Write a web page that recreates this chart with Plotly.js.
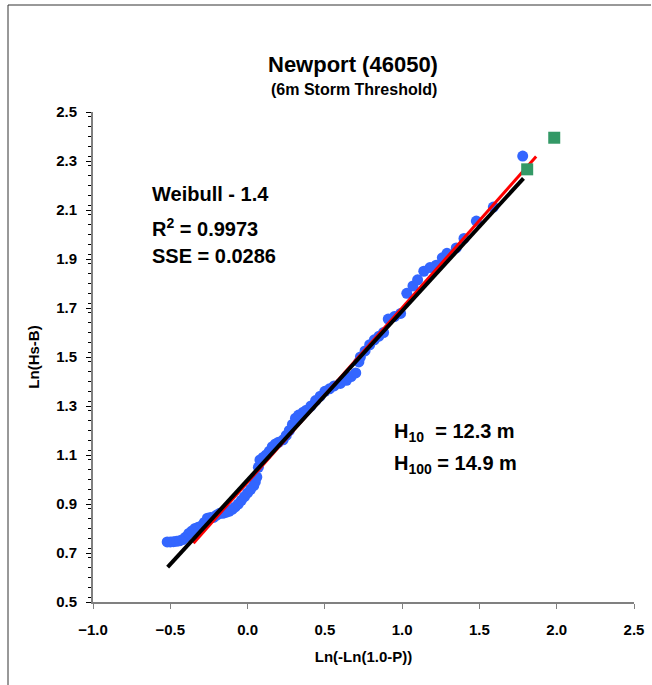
<!DOCTYPE html>
<html>
<head>
<meta charset="utf-8">
<script src="https://cdn.plot.ly/plotly-3.0.1.min.js"></script>
<style>html,body{margin:0;padding:0;background:#fff;}#chart{width:652px;height:685px;}</style>
</head>
<body>
<div id="chart"></div>
<script>
// Observed data: x = Ln(-Ln(1.0-P)), y = Ln(Hs-B)
const obsX = [-0.52,-0.50,-0.48,-0.46,-0.44,-0.42,-0.40,-0.38,-0.36,-0.34,-0.32,-0.30,-0.28,-0.26,-0.24,-0.22,-0.20,-0.18,-0.16,-0.14,-0.12,-0.10,-0.08,-0.06,-0.04,-0.02,0.00,0.02,0.04,0.05,0.06,0.07,0.08,0.10,0.12,0.14,0.16,0.18,0.20,0.23,0.25,0.27,0.29,0.31,0.33,0.36,0.38,0.41,0.44,0.47,0.50,0.53,0.56,0.60,0.64,0.67,0.70,0.72,0.73,0.76,0.79,0.82,0.85,0.88,0.91,0.95,0.99,1.03,1.07,1.10,1.14,1.18,1.22,1.26,1.29,1.35,1.40,1.48,1.59,1.78];
const obsY = [0.745,0.745,0.746,0.748,0.750,0.755,0.765,0.780,0.790,0.800,0.805,0.810,0.825,0.842,0.845,0.845,0.855,0.862,0.862,0.866,0.870,0.878,0.888,0.900,0.915,0.930,0.945,0.960,0.975,0.990,1.010,1.050,1.080,1.090,1.100,1.115,1.134,1.145,1.152,1.162,1.180,1.200,1.225,1.250,1.263,1.275,1.283,1.300,1.322,1.340,1.360,1.370,1.382,1.392,1.405,1.420,1.435,1.480,1.500,1.525,1.550,1.570,1.585,1.600,1.655,1.665,1.678,1.760,1.790,1.815,1.850,1.865,1.875,1.905,1.923,1.945,1.984,2.055,2.112,2.320];
// Fitted lines
const redX = [-0.35, 1.867];
const redY = [0.740, 2.318];
const blackX = [-0.517, 1.785];
const blackY = [0.642, 2.229];
// Return-period estimates (H10, H100)
const retX = [1.809, 1.984];
const retY = [2.266, 2.395];

const F = 'Liberation Sans, Arial, sans-serif';
const traces = [
  {x: obsX, y: obsY, mode: 'markers', type: 'scatter',
   marker: {color: '#3366FF', size: 11, line: {width: 0}}},
  {x: redX, y: redY, mode: 'lines', type: 'scatter', line: {color: '#FF0000', width: 3}},
  {x: blackX, y: blackY, mode: 'lines', type: 'scatter', line: {color: '#000000', width: 4}},
  {x: retX, y: retY, mode: 'markers', type: 'scatter',
   marker: {color: '#339966', size: 12, symbol: 'square', line: {width: 0}}}
];

const px = v => (v - 93) / 541;
const py = v => (602 - v) / 490;

const layout = {
  width: 652, height: 685,
  margin: {l: 93, r: 18, t: 112, b: 83},
  paper_bgcolor: '#fff', plot_bgcolor: '#fff',
  showlegend: false,
  font: {family: F, color: '#000'},
  xaxis: {
    range: [-1.0, 2.5], tick0: -1, dtick: 0.5, tickformat: '.1f',
    showgrid: false, zeroline: false, showline: true, linecolor: '#808080', linewidth: 2,
    ticks: 'outside', ticklen: 5, tickcolor: '#808080', tickwidth: 1,
    ticklabelstandoff: 8,
    tickfont: {family: F, size: 15, color: '#000', weight: 'bold'},
    title: {text: '<b>Ln(-Ln(1.0-P))</b>', font: {family: F, size: 15, color: '#000'}, standoff: 14}
  },
  yaxis: {
    range: [0.5, 2.5], tick0: 0.5, dtick: 0.2, tickformat: '.1f',
    showgrid: false, zeroline: false, showline: true, linecolor: '#808080', linewidth: 2,
    ticks: 'outside', ticklen: 5, tickcolor: '#000', tickwidth: 1,
    ticklabelstandoff: 6,
    minor: {dtick: 0.04, ticks: 'outside', ticklen: 3, tickcolor: '#000', showgrid: false},
    tickfont: {family: F, size: 15, color: '#000', weight: 'bold'},
    title: {text: '<b>Ln(Hs-B)</b>', font: {family: F, size: 15, color: '#000'}, standoff: 13}
  },
  annotations: [
    {xref: 'paper', yref: 'paper', x: px(353), y: py(65), text: '<b>Newport (46050)</b>',
     showarrow: false, xanchor: 'center', yanchor: 'middle', font: {family: F, size: 22, color: '#000'}},
    {xref: 'paper', yref: 'paper', x: px(354), y: py(89), text: '<b>(6m Storm Threshold)</b>',
     showarrow: false, xanchor: 'center', yanchor: 'middle', font: {family: F, size: 16, color: '#000'}},
    {xref: 'paper', yref: 'paper', x: px(150), y: py(194), text: '<b>Weibull - 1.4</b>',
     showarrow: false, xanchor: 'left', yanchor: 'middle', font: {family: F, size: 20, color: '#000'}},
    {xref: 'paper', yref: 'paper', x: px(150), y: py(227), text: '<b>R<sup>2</sup> = 0.9973</b>',
     showarrow: false, xanchor: 'left', yanchor: 'middle', font: {family: F, size: 20, color: '#000'}},
    {xref: 'paper', yref: 'paper', x: px(150), y: py(256), text: '<b>SSE = 0.0286</b>',
     showarrow: false, xanchor: 'left', yanchor: 'middle', font: {family: F, size: 20, color: '#000'}},
    {xref: 'paper', yref: 'paper', x: px(392), y: py(432), text: '<b>H<sub>10</sub>  = 12.3 m</b>',
     showarrow: false, xanchor: 'left', yanchor: 'middle', font: {family: F, size: 20, color: '#000'}},
    {xref: 'paper', yref: 'paper', x: px(392), y: py(464), text: '<b>H<sub>100</sub> = 14.9 m</b>',
     showarrow: false, xanchor: 'left', yanchor: 'middle', font: {family: F, size: 20, color: '#000'}}
  ],
  shapes: [
    {type: 'line', xref: 'paper', yref: 'paper', x0: px(8), x1: px(651), y0: py(5), y1: py(5),
     line: {color: '#333', width: 1}},
    {type: 'line', xref: 'paper', yref: 'paper', x0: px(8), x1: px(8), y0: py(5), y1: py(686),
     line: {color: '#333', width: 1}}
  ]
};

Plotly.newPlot('chart', traces, layout, {displayModeBar: false, staticPlot: true});
</script>
</body>
</html>
